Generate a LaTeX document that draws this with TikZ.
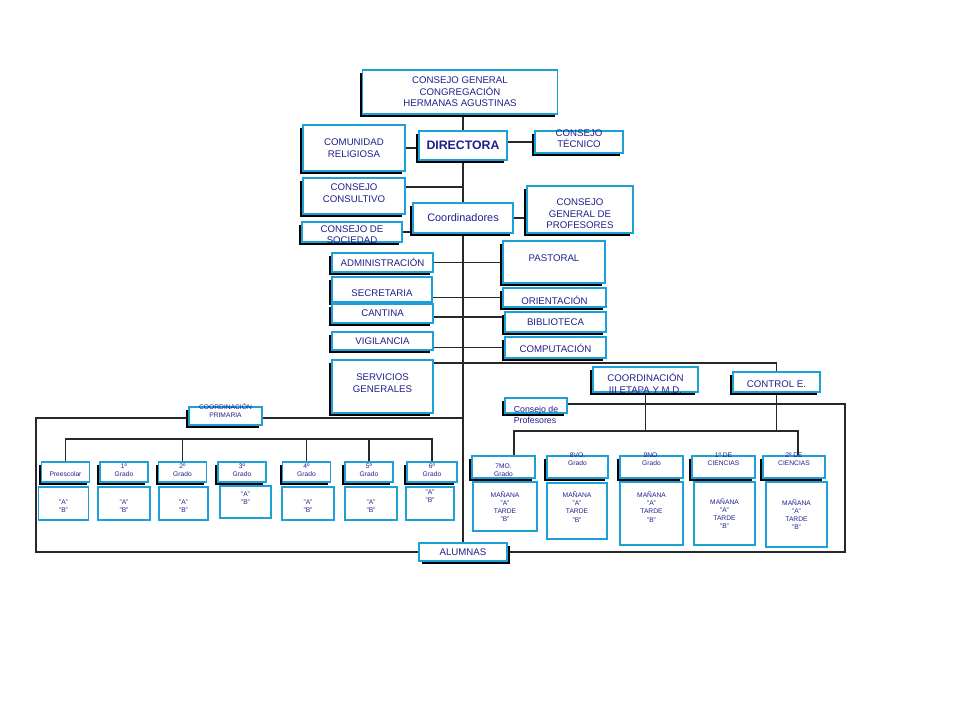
\documentclass[tikz,border=0pt]{standalone}
\usepackage{fontspec}
\setmainfont{Liberation Sans}
\usetikzlibrary{shadows,backgrounds}
\definecolor{boxblue}{RGB}{28,160,218}
\definecolor{txtblue}{RGB}{32,32,140}
\definecolor{lncol}{RGB}{40,40,40}
\begin{document}
\begin{tikzpicture}[x=0.02cm, y=-0.02cm,
  flat/.style={draw=boxblue, line width=1pt, fill=white, inner sep=0pt},
  bx/.style={flat, drop shadow={fill=black, opacity=1, shadow xshift=-1.7pt, shadow yshift=-1.7pt}},
  bxr/.style={flat, drop shadow={fill=black, opacity=1, shadow xshift=1.7pt, shadow yshift=-1.7pt}},
  sz/.style 2 args={minimum width=#1*0.02cm, minimum height=#2*0.02cm},
  t/.style={text=txtblue, align=center, inner sep=0pt, font=\fontsize{5.5}{6.6}\selectfont},
  tm/.style={t, font=\fontsize{5}{6.2}\selectfont},
  ts/.style={t, font=\fontsize{3.8}{4.6}\selectfont},
  ln/.style={line width=1pt, draw=lncol}]
  \useasboundingbox (0,0) rectangle (960,720);

  % direccion
  \node[bx, sz={195}{44}, label={[t]center:CONSEJO GENERAL\\CONGREGACIÓN\\HERMANAS AGUSTINAS}] (cg) at (460,92) {};
  \node[bx, sz={88}{29}, label={[t, font=\fontsize{7}{8}\bfseries]center:DIRECTORA}] (dir) at (463,145.5) {};
  \node[bx, sz={102}{46}, label={[t]center:COMUNIDAD\\RELIGIOSA}] (com) at (354,148) {};
  \node[bx, sz={88}{22}, label={[t, yshift=2pt]center:CONSEJO\\TÉCNICO}] (tec) at (579,142) {};
  \node[bx, sz={102}{36}, label={[t, yshift=1.5pt]center:CONSEJO\\CONSULTIVO}] (cco) at (354,196) {};
  \node[bx, sz={100}{30}, label={[t, font=\fontsize{6.2}{7}\selectfont]center:Coordinadores}] (crd) at (463,218) {};
  \node[bx, sz={106}{47}, label={[t, yshift=-2.5pt]center:CONSEJO\\GENERAL DE\\PROFESORES}] (cgp) at (580,209.5) {};
  \node[bx, sz={100}{20}, label={[t, yshift=-1.5pt]center:CONSEJO DE\\SOCIEDAD}] (csoc) at (352,232) {};

  % servicios
  \node[bx, sz={101}{19}, label={[t]center:ADMINISTRACIÓN}] (adm) at (382.5,262.5) {};
  \node[bx, sz={102}{42}, label={[t, yshift=2pt]center:PASTORAL}] (pas) at (554,262) {};
  \node[bx, sz={100}{25}, label={[t, yshift=-2pt]center:SECRETARIA}] (sec) at (382,289.5) {};
  \node[bx, sz={103}{19}, label={[t, yshift=-1.5pt]center:ORIENTACIÓN}] (ori) at (554.5,297.5) {};
  \node[bx, sz={101}{19}, label={[t]center:CANTINA}] (can) at (382.5,313.5) {};
  \node[bx, sz={101}{20}, label={[t]center:BIBLIOTECA}] (bib) at (555.5,322) {};
  \node[bx, sz={101}{18}, label={[t]center:VIGILANCIA}] (vig) at (382.5,341) {};
  \node[bx, sz={101}{21}, label={[t, yshift=-0.5pt]center:COMPUTACIÓN}] (comp) at (555.5,347.5) {};
  \node[bx, sz={101}{53}, label={[t, yshift=2pt]center:SERVICIOS\\GENERALES}] (sg) at (382.5,386.5) {};

  % etapas
  \node[bx, sz={105}{25}, label={[t, yshift=-2.3pt]center:COORDINACIÓN\\III ETAPA Y M.D.}] (ce3) at (645.5,379.5) {};
  \node[bx, sz={87}{20}, label={[t, yshift=-1pt]center:CONTROL E.}] (ctl) at (776.5,382) {};
  \node[bx, sz={62}{15}, label={[tm, align=left, yshift=-5.5pt]center:Consejo de\\Profesores}] (cpr) at (536,405.5) {};
  \node[bx, sz={73}{18}, label={[ts, yshift=3pt]center:COORDINACIÓN\\PRIMARIA}] (cpri) at (225.5,416) {};
  \node[bxr, sz={88}{18}, label={[t]center:ALUMNAS}] (alu) at (463,552) {};

  % primaria
  \node[bx, sz={48}{20}, label={[ts, yshift=-1pt]center:Preescolar}] (pre) at (65.5,472) {};
  \node[bx, sz={48}{20}, label={[ts, yshift=1pt]center:1º\\Grado}] (g1) at (124,472) {};
  \node[bx, sz={48}{20}, label={[ts, yshift=1pt]center:2º\\Grado}] (g2) at (182.5,472) {};
  \node[bx, sz={48}{20}, label={[ts, yshift=1pt]center:3º\\Grado}] (g3) at (242,472) {};
  \node[bx, sz={48}{20}, label={[ts, yshift=1pt]center:4º\\Grado}] (g4) at (306.5,472) {};
  \node[bx, sz={48}{20}, label={[ts, yshift=1pt]center:5º\\Grado}] (g5) at (369,472) {};
  \node[bx, sz={50}{20}, label={[ts, yshift=1pt]center:6º\\Grado}] (g6) at (432,472) {};
  \node[flat, sz={50}{33}, label={[ts, yshift=-1.5pt]center:"A"\\"B"}] (pre2) at (63.5,503.5) {};
  \node[flat, sz={52}{33}, label={[ts, yshift=-1.5pt]center:"A"\\"B"}] (g12) at (124,503.5) {};
  \node[flat, sz={49}{33}, label={[ts, yshift=-1.5pt]center:"A"\\"B"}] (g22) at (183.5,503.5) {};
  \node[flat, sz={51}{32}, label={[ts, yshift=2pt]center:"A"\\"B"}] (g32) at (245.5,502) {};
  \node[flat, sz={52}{33}, label={[ts, yshift=-1.5pt]center:"A"\\"B"}] (g42) at (308,503.5) {};
  \node[flat, sz={52}{33}, label={[ts, yshift=-1.5pt]center:"A"\\"B"}] (g52) at (371,503.5) {};
  \node[flat, sz={48}{33}, label={[ts, yshift=4pt]center:"A"\\"B"}] (g62) at (430,503.5) {};

  % III etapa y media
  \node[bx, sz={63}{22}, label={[ts, yshift=-1.7pt]center:7MO.\\Grado}] (s7) at (503.5,467) {};
  \node[bx, sz={61}{22}, label={[ts, yshift=4.5pt]center:8VO.\\Grado}] (s8) at (577.5,467) {};
  \node[bx, sz={63}{22}, label={[ts, yshift=4.5pt]center:9NO.\\Grado}] (s9) at (651.5,467) {};
  \node[bx, sz={63}{22}, label={[ts, yshift=4.5pt]center:1º DE\\CIENCIAS}] (c1) at (723.5,467) {};
  \node[bx, sz={62}{22}, label={[ts, yshift=4.5pt]center:2º DE\\CIENCIAS}] (c2) at (794,467) {};
  \node[flat, sz={64}{49}, label={[ts]center:MAÑANA\\"A"\\TARDE\\"B"}] (s72) at (505,506.5) {};
  \node[flat, sz={60}{56}, label={[ts, yshift=2.3pt]center:MAÑANA\\"A"\\TARDE\\"B"}] (s82) at (577,511) {};
  \node[flat, sz={63}{63}, label={[ts, yshift=3.7pt]center:MAÑANA\\"A"\\TARDE\\"B"}] (s92) at (651.5,513.5) {};
  \node[flat, sz={61}{63}, label={[ts]center:MAÑANA\\"A"\\TARDE\\"B"}] (c12) at (724.5,513.5) {};
  \node[flat, sz={61}{65}, label={[ts]center:MAÑANA\\"A"\\TARDE\\"B"}] (c22) at (796.5,514.5) {};

  \coordinate (jl) at (514,431);
  \coordinate (jr) at (798,431);
  \coordinate (rc) at (845,552);
  \coordinate (lc) at (36,552);
  \coordinate (bar1) at (0,439);

  \begin{scope}[on background layer]
    \draw[ln] (dir.north) -- (dir.north |- cg.south);
    \draw[ln] (dir.south) -- (alu.north);
    \draw[ln] (com.east) -- (com.east -| dir.west);
    \draw[ln] (tec.west) -- (tec.west -| dir.east);
    \draw[ln] ([yshift=5pt]cco.east) -- ([yshift=5pt]cco.east -| dir.south);
    \draw[ln] (csoc.east) -- (csoc.east -| crd.west);
    \draw[ln] (crd.east) -- (crd.east -| cgp.west);
    \draw[ln] (adm.east) -- (adm.east -| pas.west);
    \draw[ln] (ori.west) -- (ori.west -| sec.east);
    \draw[ln] ([yshift=-2pt]can.east) -- ([yshift=-2pt]can.east -| bib.west);
    \draw[ln] (comp.west) -- (comp.west -| vig.east);
    \draw[ln] ([yshift=-2pt]sg.north east) -| (ctl.north);
    \draw[ln] (ce3.south) -- (ce3.south |- jl);
    \draw[ln] (ctl.south) -- (ctl.south |- jr);
    \draw[ln] (jl |- s7.north) -- (jl) -- (jr) -- (jr |- c2.north);
    \draw[ln] ([yshift=1pt]cpr.east) -| (rc) -- (alu.east);
    \draw[ln] ([yshift=-1pt]cpri.west) -| (lc) -- (alu.west);
    \draw[ln] ([yshift=-1pt]cpri.east) -- ([yshift=-1pt]cpri.east -| dir.south);
    \draw[ln] (pre.north) |- (bar1 -| g6.north) -- (g6.north);
    \draw[ln] (g2.north) -- (g2.north |- bar1);
    \draw[ln] (g4.north) -- (g4.north |- bar1);
    \draw[ln] (g5.north) -- (g5.north |- bar1);
  \end{scope}
\end{tikzpicture}
\end{document}
